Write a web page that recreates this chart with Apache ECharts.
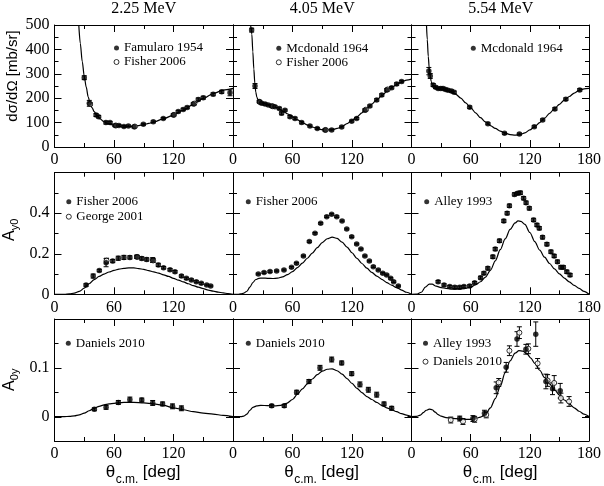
<!DOCTYPE html>
<html><head><meta charset="utf-8">
<script src="https://cdn.jsdelivr.net/npm/echarts@6/dist/echarts.min.js"></script>
<style>html,body{margin:0;padding:0;background:#fff}#c{width:604px;height:486px}</style>
</head><body><div id="c"></div>
<script>
// ---------------- DATA ----------------
const energyLabels = ['2.25 MeV', '4.05 MeV', '5.54 MeV'];
const xTickLabels = [0, 60, 120, 180];
const xsTickLabels = [0, 100, 200, 300, 400, 500];
const ayTickLabels = [0, 0.2, 0.4];
const a0yTickLabels = [0, 0.1];
const a0yMajorTickValues = [0, 0.1];

// cross sections [theta, mb/sr] / [theta, value, error]
const theoryXs225 = [[24.5,500],[26,425],[28,350],[30,290],[32,245],[34,205],[36,178],[38,160],[40,145],[43,128],[46,115],[50,103],[55,94],[60,89],[65,87],[70,85],[75,84],[80,85],[85,88],[90,92],[95,97],[100,102],[110,116],[120,131],[130,151],[140,175],[150,199],[160,219],[170,233],[180,240]];
const xsFamularo1954_225 = [[30,284,8],[35.1,179,12],[41.9,131,6],[44.5,124,5],[51.9,100,6],[56,100,4],[61,88,4],[65,88,4],[70,84,4],[74.5,86,4],[80.2,83,4],[89.6,93,4],[99.6,103,4],[109.7,117,4],[119.8,131,5],[124.8,145,5],[129.8,154,5],[133.8,162,5],[140,176,5],[145,195,6],[150,202,6],[160,216,6],[168.6,226,6],[177,222,12]];
const xsFisher2006_225 = [[36,176,6],[62,88,4],[81,84,4],[120.5,132,4],[141,178,5]];

const theoryXs405 = [[17.8,500],[19,462],[20,390],[21,320],[22,262],[23,225],[24,205],[25,195],[27,186],[30,180],[35,174],[40,168],[45,160],[50,148],[55,136],[60,124],[65,111],[70,100],[75,90],[80,82],[85,76],[90,71],[95,70],[100,71],[105,76],[110,84],[115,96],[120,110],[125,124],[130,140],[135,158],[140,176],[145,193],[150,210],[155,227],[160,243],[165,256],[170,267],[175,274],[180,278]];
const xsMcdonald1964_405 = [[18.8,479,8],[22.2,250,10],[26.5,186,5],[28.9,179,4],[32.3,176,5],[35.6,172,4],[39,168,5],[42.3,165,4],[46.7,158,5],[49,138,6],[52.4,151,4],[57.5,124,5],[62.5,117,5],[69.2,100,5],[77.6,86,4],[85,76,4],[92.8,70,4],[99.5,70,4],[109.6,82,4],[119.7,106,4],[124.7,117,4],[133,151,5],[138,168,4],[144.9,193,5],[150,213,5],[155,234,5],[160,243,5],[165,258,5],[170,268,5]];
const xsFisher2006_405 = [[27,184,4],[40,167,4],[93.5,70,4],[134,153,4],[156,236,5]];

const theoryXs554 = [[15.2,500],[16,440],[17,372],[18,322],[19,290],[20,268],[21,254],[22,246],[24,241],[27,239],[30,237],[35,233],[40,227],[45,216],[50,200],[55,181],[60,161],[65,140],[70,120],[75,103],[80,88],[85,76],[90,65],[95,57],[100,51],[105,49],[110,51],[115,58],[120,70],[125,84],[130,100],[135,118],[140,138],[145,157],[150,175],[155,192],[160,207],[165,221],[170,232],[175,238],[180,240]];
const xsMcdonald1964_554 = [[17.6,311,15],[19,291,10],[22,254,6],[24.4,245,5],[27,240,5],[29.7,240,5],[32,240,5],[34.5,236,5],[37,233,5],[40.5,229,5],[43.2,224,5],[59,163,5],[77.5,95,4],[94.3,56,4],[109.4,53,4],[124.5,83,4],[133,111,4],[145.4,156,5],[156.5,196,5],[170.6,234,5]];

// Ay0
const theoryAy225 = [[0,0],[10,0],[15,0.002],[20,0.006],[25,0.014],[30,0.03],[35,0.052],[40,0.072],[45,0.088],[50,0.1],[55,0.11],[60,0.118],[65,0.124],[70,0.128],[75,0.13],[80,0.13],[85,0.127],[90,0.123],[95,0.117],[100,0.111],[105,0.104],[110,0.096],[115,0.088],[120,0.079],[125,0.07],[130,0.061],[135,0.052],[140,0.043],[145,0.035],[150,0.028],[155,0.021],[160,0.016],[165,0.011],[170,0.007],[175,0.003],[180,0]];
const ayFisher2006_225 = [[31.8,0.046,0.006],[39,0.09,0.01],[45.2,0.117,0.006],[52,0.156,0.02],[58.7,0.164,0.008],[64.3,0.178,0.01],[70,0.182,0.01],[76,0.182,0.008],[82.9,0.185,0.008],[88,0.177,0.008],[93,0.172,0.008],[99,0.169,0.012],[104.7,0.145,0.008],[110,0.131,0.006],[116.5,0.121,0.006],[121.5,0.111,0.006],[128,0.09,0.006],[133,0.079,0.005],[138,0.071,0.005],[143,0.062,0.005],[148,0.054,0.005],[153.5,0.046,0.004],[157.5,0.041,0.004]];
const ayGeorge2001_225 = [[52.5,0.166,0.012],[83.5,0.184,0.008],[99.5,0.167,0.01]];

const theoryAy405 = [[0,0],[5,0],[8,0.002],[11,0.006],[14,0.015],[17,0.035],[20,0.058],[23,0.073],[26,0.079],[30,0.08],[35,0.079],[40,0.078],[45,0.08],[50,0.086],[55,0.097],[60,0.112],[65,0.132],[70,0.154],[75,0.178],[80,0.203],[85,0.23],[90,0.255],[95,0.274],[100,0.282],[105,0.276],[110,0.257],[115,0.233],[120,0.205],[125,0.177],[130,0.152],[135,0.129],[140,0.108],[145,0.09],[150,0.074],[155,0.058],[160,0.045],[165,0.033],[170,0.021],[175,0.01],[180,0]];
const ayFisher2006_405 = [[25.5,0.1,0.004],[31.3,0.107,0.004],[37.3,0.112,0.004],[44,0.115,0.004],[51.4,0.12,0.004],[59,0.133,0.004],[64,0.153,0.004],[71,0.189,0.004],[77,0.26,0.004],[82.7,0.301,0.004],[88.4,0.35,0.004],[94.5,0.383,0.004],[99.5,0.395,0.004],[104.6,0.383,0.004],[110,0.362,0.004],[114.7,0.322,0.004],[119.7,0.284,0.004],[124.7,0.248,0.004],[129,0.223,0.004],[133,0.189,0.004],[137.5,0.164,0.004],[141.5,0.136,0.004],[146.5,0.12,0.004],[151,0.104,0.004],[155,0.095,0.004],[159,0.079,0.004],[162,0.062,0.004],[166.7,0.041,0.004]];

const theoryAy554 = [[0,0],[5,0.001],[10,0.01],[14,0.035],[18,0.05],[21,0.05],[25,0.04],[30,0.033],[35,0.029],[40,0.026],[45,0.025],[50,0.026],[55,0.029],[60,0.036],[65,0.047],[70,0.062],[75,0.085],[80,0.118],[85,0.165],[90,0.22],[95,0.273],[100,0.32],[105,0.352],[108,0.362],[111,0.36],[115,0.345],[120,0.305],[125,0.26],[130,0.218],[135,0.183],[140,0.152],[145,0.125],[150,0.101],[155,0.08],[160,0.061],[165,0.044],[170,0.029],[175,0.014],[180,0]];
const ayAlley1993_554 = [[27,0.062,0.006],[33,0.046,0.006],[38.8,0.038,0.006],[43.9,0.035,0.006],[48.9,0.035,0.006],[53.2,0.038,0.006],[59,0.041,0.006],[64,0.057,0.006],[70,0.082,0.007],[73.4,0.104,0.007],[77.4,0.128,0.008],[82.5,0.185,0.008],[84.9,0.223,0.008],[89.2,0.264,0.008],[93.6,0.362,0.008],[97,0.4,0.008],[99.3,0.437,0.008],[104.4,0.493,0.008],[107.7,0.498,0.008],[110.4,0.501,0.008],[113.7,0.474,0.008],[116.2,0.452,0.008],[119.5,0.424,0.008],[123.8,0.367,0.008],[127.2,0.342,0.008],[129.6,0.326,0.008],[132.9,0.281,0.008],[137.3,0.247,0.008],[141.4,0.21,0.008],[144.7,0.189,0.008],[148,0.161,0.008],[151.5,0.133,0.008],[154,0.133,0.008],[157.5,0.111,0.008],[160.8,0.095,0.008]];

// A0y
const theoryA0y225 = [[0,0],[10,0],[15,0.0005],[20,0.0015],[25,0.0035],[30,0.007],[35,0.012],[40,0.017],[45,0.021],[50,0.024],[55,0.026],[60,0.027],[70,0.029],[80,0.029],[90,0.028],[100,0.026],[110,0.023],[120,0.018],[130,0.014],[140,0.01],[150,0.007],[160,0.005],[170,0.0025],[180,0]];
const a0yDaniels2010_225 = [[40.2,0.015,0.003],[52,0.019,0.004],[64.4,0.029,0.004],[76,0.035,0.005],[88,0.034,0.004],[99,0.028,0.005],[109,0.026,0.004],[119,0.021,0.005],[128,0.017,0.005]];

const theoryA0y405 = [[0,0],[8,0],[11,0.001],[14,0.005],[17,0.013],[20,0.019],[24,0.022],[28,0.023],[35,0.0225],[42,0.022],[48,0.023],[54,0.027],[60,0.035],[65,0.046],[70,0.057],[75,0.067],[80,0.077],[85,0.086],[90,0.093],[95,0.097],[100,0.098],[105,0.094],[110,0.087],[115,0.078],[120,0.068],[125,0.058],[130,0.049],[135,0.041],[140,0.035],[145,0.029],[150,0.023],[155,0.018],[160,0.014],[165,0.01],[170,0.006],[175,0.003],[180,0]];
const a0yDaniels2010_405 = [[39,0.022,0.003],[51.7,0.022,0.003],[64.2,0.05,0.004],[76.6,0.072,0.004],[87.7,0.1,0.005],[99.5,0.117,0.005],[109.6,0.11,0.004],[119.7,0.088,0.004],[128,0.066,0.005],[136.5,0.055,0.005],[144.9,0.045,0.005],[152.3,0.026,0.004],[160,0.017,0.004]];

const theoryA0y554 = [[0,0],[5,0.0005],[9,0.003],[12,0.008],[15,0.013],[18,0.0155],[21,0.014],[24,0.009],[27,0.004],[30,0.001],[35,-0.002],[40,-0.003],[45,-0.004],[50,-0.005],[55,-0.0055],[60,-0.0055],[65,-0.004],[70,-0.001],[75,0.005],[80,0.018],[85,0.037],[90,0.062],[95,0.09],[100,0.114],[105,0.13],[109,0.135],[113,0.134],[117,0.129],[121,0.12],[125,0.109],[130,0.095],[135,0.08],[140,0.067],[145,0.055],[150,0.044],[155,0.034],[160,0.026],[165,0.018],[170,0.011],[175,0.005],[180,0]];
const a0yAlley1993_554 = [[48.9,-0.004,0.005],[62.3,-0.004,0.006],[74,0.007,0.006],[85.9,0.059,0.012],[96,0.101,0.01],[107,0.159,0.015],[116,0.138,0.01],[126,0.169,0.025],[136.3,0.072,0.015],[143,0.057,0.012],[150.8,0.053,0.015]];
const a0yDaniels2010_554 = [[39.8,-0.007,0.006],[52.2,-0.01,0.006],[64,-0.0055,0.006],[75.8,0.0035,0.006],[88.5,0.07,0.008],[99.3,0.135,0.01],[109.4,0.172,0.012],[118.5,0.139,0.01],[127.9,0.109,0.01],[138,0.074,0.012],[144.7,0.069,0.015],[151.5,0.038,0.01],[159.8,0.031,0.01]];

// ---------------- LAYOUT ----------------
const SERIF = "'Liberation Serif','Times New Roman',serif";
const SANS = "'Liberation Sans',Arial,sans-serif";
const colLeft = [54.5, 233, 411.5], colW = 178.5;
const rowTop = [25, 172.7, 319], rowH = [122, 121.6, 122];

const panels = [
  {theory: theoryXs225, sets: [{name:'Famularo 1954', data: xsFamularo1954_225}, {name:'Fisher 2006', data: xsFisher2006_225, open:true}], leg:[113.5,41,0]},
  {theory: theoryXs405, sets: [{name:'Mcdonald 1964', data: xsMcdonald1964_405}, {name:'Fisher 2006', data: xsFisher2006_405, open:true}], leg:[275.8,41.3,0]},
  {theory: theoryXs554, sets: [{name:'Mcdonald 1964', data: xsMcdonald1964_554}], leg:[470.8,41.3,0]},
  {theory: theoryAy225, sets: [{name:'Fisher 2006', data: ayFisher2006_225}, {name:'George 2001', data: ayGeorge2001_225, open:true}], leg:[65.8,194.7,1]},
  {theory: theoryAy405, sets: [{name:'Fisher 2006', data: ayFisher2006_405}], leg:[245.8,194.7,0]},
  {theory: theoryAy554, sets: [{name:'Alley 1993', data: ayAlley1993_554}], leg:[424.2,194.7,0]},
  {theory: theoryA0y225, sets: [{name:'Daniels 2010', data: a0yDaniels2010_225}], leg:[65.8,336.3,0]},
  {theory: theoryA0y405, sets: [{name:'Daniels 2010', data: a0yDaniels2010_405}], leg:[245.8,336.3,0]},
  {theory: theoryA0y554, sets: [{name:'Alley 1993', data: a0yAlley1993_554}, {name:'Daniels 2010', data: a0yDaniels2010_554, open:true}], leg:[422.5,336.3,4.4]}
];

const rowY = [
  {min:0, max:500, interval:100, labels: xsTickLabels},
  {min:0, max:0.6, interval:0.2, labels: ayTickLabels},
  {min:-0.05, max:0.2, interval:0.05, labels: a0yTickLabels, major: a0yMajorTickValues}
];

function hasLabel(list, v){ return list.some(t => Math.abs(t - v) < 1e-9); }
function lineStyle(){ return {color:'#000', width:1}; }

const grids = [], xAxes = [], yAxes = [], series = [], legends = [];
const xIdx = [], yIdx = [];

for (let r = 0; r < 3; r++) {
  for (let c = 0; c < 3; c++) {
    const g = r * 3 + c;
    grids.push({left: colLeft[c], top: rowTop[r], width: colW, height: rowH[r], show:false});
    ['bottom','top'].forEach((pos, k) => {
      if (k === 0) xIdx[g] = xAxes.length;
      xAxes.push({
        type:'value', gridIndex:g, position:pos, min:0, max:180, interval:60,
        splitLine:{show:false},
        axisLine:{show:true, onZero:false, lineStyle:lineStyle()},
        axisTick:{show:true, inside:true, length:7, lineStyle:lineStyle()},
        minorTick:{show:true, splitNumber:2, length:4, lineStyle:lineStyle()},
        axisLabel:{show:k===0, margin:5, color:'#000', fontFamily:SERIF, fontSize:16,
          showMinLabel:true, showMaxLabel:c===2,
          formatter: v => (hasLabel(xTickLabels, v) && (c === 2 || v < 180)) ? String(v) : ''}
      });
    });
    const ry = rowY[r];
    ['left','right'].forEach((pos, k) => {
      if (k === 0) yIdx[g] = yAxes.length;
      const showLab = (k === 0 && c === 0);
      yAxes.push({
        type:'value', gridIndex:g, position:pos, min:ry.min, max:ry.max, interval:ry.interval,
        splitLine:{show:false},
        axisLine:{show:true, onZero:false, lineStyle:lineStyle()},
        axisTick:{show:true, inside:true, length: ry.major ? 4 : 7, lineStyle:lineStyle()},
        minorTick:{show: !ry.major, splitNumber:2, length:4, lineStyle:lineStyle()},
        axisLabel:{show:showLab, margin:5, color:'#000', fontFamily:SERIF, fontSize:16,
          showMaxLabel:true, showMinLabel:true,
          formatter: v => hasLabel(ry.labels, v) ? String(Math.round(v*1000)/1000) : ''}
      });
    });

    const p = panels[g];
    series.push({
      type:'line', name:'theory' + g, xAxisIndex:xIdx[g], yAxisIndex:yIdx[g],
      data:p.theory, showSymbol:false, symbol:'none', smooth:0.3, smoothMonotone:'x',
      lineStyle:{color:'#000', width:1.2}, silent:true, clip:true, z:2, animation:false
    });
    if (ry.major) {
      // longer major ticks on left/right edges at the major values, placed via the axis scale
      series.push({
        type:'custom', name:'majorTicks' + g, xAxisIndex:xIdx[g], yAxisIndex:yIdx[g],
        data: ry.major.map(v => [0, v]), silent:true, animation:false, z:5, clip:false,
        renderItem:(params, api) => {
          const cs = params.coordSys;
          const pt = api.coord([api.value(0), api.value(1)]);
          const L = 7, st = {stroke:'#000', lineWidth:1};
          const yy = Math.round(pt[1]) + 0.5;
          return {type:'group', children:[
            {type:'line', shape:{x1:cs.x, y1:yy, x2:cs.x + L, y2:yy}, style:st},
            {type:'line', shape:{x1:cs.x + cs.width - L, y1:yy, x2:cs.x + cs.width, y2:yy}, style:st}
          ]};
        }
      });
    }
    // open sets first so filled points sit on top
    const ordered = p.sets.slice().sort((a, b) => (b.open ? 1 : 0) - (a.open ? 1 : 0));
    ordered.forEach(s => {
      series.push({
        type:'custom', name:s.name + ' err ' + g, xAxisIndex:xIdx[g], yAxisIndex:yIdx[g],
        data:s.data, clip:true, z:3, silent:true, animation:false,
        encode:{x:0, y:1},
        renderItem:(params, api) => {
          const x = api.value(0), y = api.value(1), e = api.value(2);
          const a = api.coord([x, y + e]), b = api.coord([x, y - e]);
          const w = 2.5, st = {stroke:'#000', lineWidth:1};
          return {type:'group', children:[
            {type:'line', shape:{x1:a[0], y1:a[1], x2:b[0], y2:b[1]}, style:st},
            {type:'line', shape:{x1:a[0]-w, y1:a[1], x2:a[0]+w, y2:a[1]}, style:st},
            {type:'line', shape:{x1:b[0]-w, y1:b[1], x2:b[0]+w, y2:b[1]}, style:st}
          ]};
        }
      });
      series.push({
        type:'scatter', name:s.name, xAxisIndex:xIdx[g], yAxisIndex:yIdx[g],
        data:s.data.map(d => [d[0], d[1]]), symbol:'circle', symbolSize: s.open ? 5 : 5.5,
        itemStyle: s.open ? {color:'#fff', borderColor:'#000', borderWidth:1} : {color:'#000'},
        z: s.open ? 3.5 : 4, silent:true, animation:false
      });
    });
    legends.push({
      orient:'vertical', left:p.leg[0], top:p.leg[1], padding:0, itemGap:p.leg[2],
      itemWidth:5, itemHeight:5, icon:'circle', selectedMode:false,
      textStyle:{fontFamily:SERIF, fontSize:13, color:'#000', lineHeight:14},
      data: p.sets.map(s => ({name:s.name, icon:'circle',
        itemStyle: s.open ? {color:'#fff', borderColor:'#000', borderWidth:1} : {color:'#000', borderColor:'#000', borderWidth:0}}))
    });
  }
}

const graphics = [];
energyLabels.forEach((t, c) => {
  graphics.push({type:'text', x: colLeft[c] + colW/2, y: 9,
    style:{text:t, fontFamily:SERIF, fontSize:16, fill:'#000', align:'center', verticalAlign:'middle'}});
  const cx = colLeft[c] + colW/2;
  graphics.push({type:'text', x: cx - 38, y: 472, style:{text:'θ', fontFamily:SANS, fontSize:17, fill:'#000', align:'left', verticalAlign:'middle'}});
  graphics.push({type:'text', x: cx - 28, y: 480, style:{text:'c.m.', fontFamily:SANS, fontSize:12, fill:'#000', align:'left', verticalAlign:'middle'}});
  graphics.push({type:'text', x: cx - 1, y: 472, style:{text:'[deg]', fontFamily:SANS, fontSize:17, fill:'#000', align:'left', verticalAlign:'middle'}});
});
graphics.push({type:'text', x:12.5, y:76, rotation:Math.PI/2,
  style:{text:'dσ/dΩ [mb/sr]', fontFamily:SANS, fontSize:15, fill:'#000', align:'center', verticalAlign:'middle'}});
[['y0', 241], ['0y', 391]].forEach(([sub, gy]) => {
  graphics.push({type:'group', x:10, y:gy, rotation:Math.PI/2, children:[
    {type:'text', x:0, y:0, style:{text:'A', fontFamily:SANS, fontSize:16, fill:'#000', align:'left', verticalAlign:'middle'}},
    {type:'text', x:10.8, y:4.5, style:{text:sub, fontFamily:SANS, fontSize:11, fill:'#000', align:'left', verticalAlign:'middle'}}
  ]});
});

const chart = echarts.init(document.getElementById('c'), null, {renderer:'canvas'});
chart.setOption({
  animation:false, backgroundColor:'#fff',
  grid:grids, xAxis:xAxes, yAxis:yAxes, series:series, legend:legends, graphic:graphics,
  tooltip:{show:false}
});
</script></body></html>
